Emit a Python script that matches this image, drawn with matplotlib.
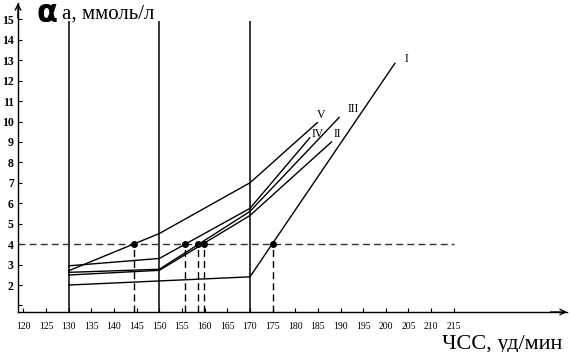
import numpy as np
import matplotlib.pyplot as plt

# heart rate (уд/мин) and blood lactate (ммоль/л) for curves I..V
hr_I = [130, 150, 170, 202]
la_I = [2.0, 2.2, 2.4, 12.85]
hr_II = [130, 150, 170, 188]
la_II = [2.49, 2.72, 5.4, 9.0]
hr_III = [130, 150, 170, 189.7]
la_III = [2.62, 2.77, 5.6, 10.2]
hr_IV = [130, 150, 170, 183.2]
la_IV = [2.94, 3.3, 5.75, 9.2]
hr_V = [130, 150, 170, 184.9]
la_V = [2.7, 4.52, 7.0, 9.95]

curve_names = ["I", "II", "III", "IV", "V"]
label_x = [204.1, 188.5, 191.6, 183.7, 184.8]
label_y = [13.07, 9.4, 10.6, 9.4, 10.34]

# anaerobic threshold (4 ммоль/л) crossings
threshold = 4
thr_hr = [144.3, 155.7, 158.6, 159.9, 175]

stage_hr = [130, 150, 170]
x_ticks = list(range(120, 216, 5))
y_ticks = list(range(1, 16))

serif = "Liberation Serif"

fig = plt.figure(figsize=(5.7, 3.52), dpi=100)
ax = fig.add_axes([18 / 570, 40 / 352, 549 / 570, 309 / 352])
ax.set_xlim(118.8, 240)
ax.set_ylim(0.68, 15.8)

for s in ["top", "right"]:
    ax.spines[s].set_visible(False)
for s in ["left", "bottom"]:
    ax.spines[s].set_linewidth(1.0)
# open arrow heads on the axes
ax.annotate("", xy=(1.0, 0), xytext=(0.97, 0), xycoords="axes fraction",
            arrowprops=dict(arrowstyle="->", lw=1.0, color="black",
                            shrinkA=0, shrinkB=0))
ax.annotate("", xy=(0, 1.0), xytext=(0, 0.95), xycoords="axes fraction",
            arrowprops=dict(arrowstyle="->", lw=1.0, color="black",
                            shrinkA=0, shrinkB=0))

# stage lines
ax.vlines(stage_hr, 0.68, 14.9, color="black", lw=1.1)

# threshold line
ax.plot([118.8, 215], [threshold, threshold], color="#333333", lw=1.0,
        ls=(0, (5, 3)))

curves = [(hr_I, la_I), (hr_II, la_II), (hr_III, la_III),
          (hr_IV, la_IV), (hr_V, la_V)]
for (hx, ly) in curves:
    ax.plot(hx, ly, color="black", lw=1.0)

for name, lx, ly in zip(curve_names, label_x, label_y):
    ax.text(lx, ly, name, fontsize=8.5, family=serif, ha="left", va="center")

ax.vlines(thr_hr, 0.68, threshold, color="black", lw=1.0, ls=(0, (5, 3)))
ax.plot(thr_hr, [threshold] * len(thr_hr), "o", color="black", ms=4)

ax.set_xticks(x_ticks)
ax.set_xticklabels([str(v) for v in x_ticks], fontsize=7, family=serif)
ax.set_yticks(y_ticks)
ax.set_yticklabels(["" if v == 1 else str(v) for v in y_ticks],
                   fontsize=8.5, family=serif, fontweight="bold")
ax.tick_params(axis="x", direction="in", length=3, pad=7)
ax.tick_params(axis="y", direction="in", length=3, pad=3)

fig.text(37 / 570, 1 - 14 / 352, "α", fontsize=22, fontweight="bold",
         ha="left", va="center")
fig.text(62 / 570, 1 - 14 / 352, "а, ммоль/л", fontsize=15, family=serif,
         ha="left", va="center")
fig.text(562 / 570, 1 - 344 / 352, "ЧСС, уд/мин", fontsize=16, family=serif,
         ha="right", va="center")

plt.savefig("out.png", dpi=100)
plt.close()
